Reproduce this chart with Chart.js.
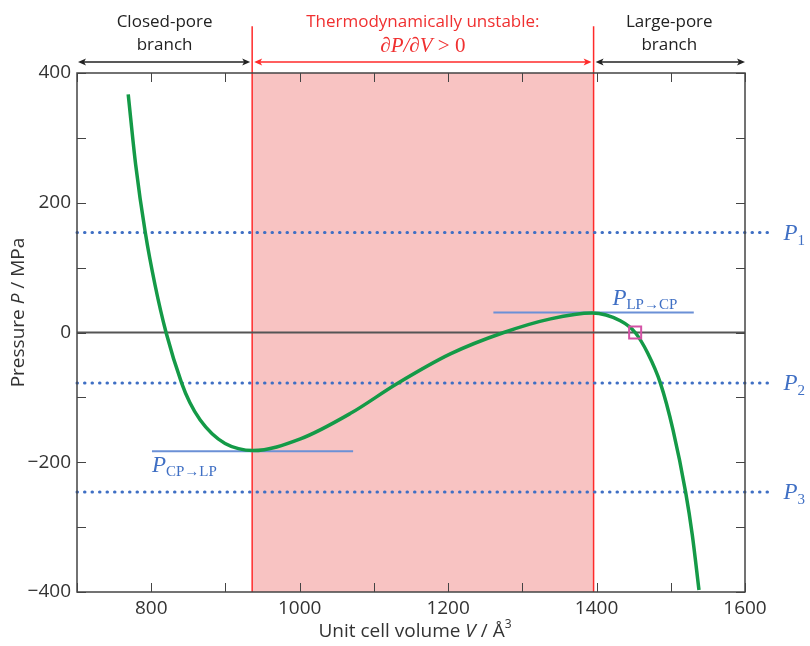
<!DOCTYPE html>
<html><head><meta charset="utf-8">
<script src="https://cdn.jsdelivr.net/npm/chart.js@4/dist/chart.umd.min.js"></script>
<style>html,body{margin:0;padding:0;background:#fff}#c{display:block}</style>
</head><body>
<canvas id="c" width="810" height="646"></canvas>
<script>
// ---- data ----
const curveV = [769, 779, 792, 805, 820, 841, 852, 866, 882, 899.5, 917.5, 937, 1001, 1068, 1131, 1203, 1275, 1338, 1394, 1432, 1452, 1469, 1486, 1503, 1520, 1529, 1538];
const curveP = [367, 259, 154, 74, 0, -78, -108, -135, -156, -171, -179, -182, -164, -125, -79, -33, 0, 21, 30, 18, 0, -32, -78, -150, -246, -312, -397];
const unstableRange = [936, 1396];
const pressureLevels = [154, -78, -246];
const pressureNames = ['1', '2', '3'];
const pCPtoLP = {v: [801, 1072], p: -183};
const pLPtoCP = {v: [1261, 1531], p: 31};
const markerPoint = {v: 1452, p: 0};
const xTicksLabelled = [800, 1000, 1200, 1400, 1600];
const yTicksLabelled = [-400, -200, 0, 200, 400];
const xRange = [700, 1600];
const yRange = [-400, 400];
const dottedEnd = 1637;

const SANS = '"Open Sans", sans-serif';
const SERIF = '"Liberation Serif", "DejaVu Serif", serif';
const BLUE = '#3f6fc4';
const RED = '#ff2a2a';

const pts = (xs, ys) => xs.map((x, i) => ({x, y: ys[i]}));

const datasets = [];
datasets.push({label: 'marker', data: [{x: markerPoint.v, y: markerPoint.p}], showLine: false,
  pointStyle: 'rect', pointRadius: 8.5, borderColor: '#d452a6', borderWidth: 2, backgroundColor: 'rgba(0,0,0,0)'});
datasets.push({label: 'curve', data: pts(curveV, curveP), borderColor: '#149a47', borderWidth: 3.5,
  cubicInterpolationMode: 'monotone', pointRadius: 0, fill: false});
pressureLevels.forEach((p, i) => datasets.push({label: 'P' + pressureNames[i],
  data: [{x: xRange[0], y: p}, {x: dottedEnd, y: p}], borderColor: BLUE, borderWidth: 3,
  borderDash: [0.5, 7], borderCapStyle: 'round', pointRadius: 0, clip: false}));
datasets.push({label: 'cp-lp', data: [{x: pCPtoLP.v[0], y: pCPtoLP.p}, {x: pCPtoLP.v[1], y: pCPtoLP.p}],
  borderColor: '#6b90d6', borderWidth: 2, pointRadius: 0});
datasets.push({label: 'lp-cp', data: [{x: pLPtoCP.v[0], y: pLPtoCP.p}, {x: pLPtoCP.v[1], y: pLPtoCP.p}],
  borderColor: '#6b90d6', borderWidth: 2, pointRadius: 0});
datasets.push({label: 'zero', data: [{x: xRange[0], y: 0}, {x: xRange[1], y: 0}],
  borderColor: '#555', borderWidth: 2, pointRadius: 0});
unstableRange.forEach(v => datasets.push({label: 'edge', data: [{x: v, y: yRange[0]}, {x: v, y: 472}],
  borderColor: RED, borderWidth: 1.5, pointRadius: 0, clip: false}));
datasets.push({label: 'shade', data: [{x: unstableRange[0], y: yRange[1]}, {x: unstableRange[1], y: yRange[1]}],
  borderWidth: 0, borderColor: 'rgba(0,0,0,0)', backgroundColor: '#f8c3c2', fill: 'start', pointRadius: 0});

function richText(ctx, parts, x, y, align) {
  let w = 0;
  parts.forEach(p => { ctx.font = p.font; p.w = ctx.measureText(p.t).width; w += p.w; });
  let cx = align === 'center' ? x - w / 2 : x;
  parts.forEach(p => { ctx.font = p.font; ctx.textAlign = 'left'; ctx.fillText(p.t, cx, y + (p.dy || 0)); cx += p.w; });
}
function arrow(ctx, x1, x2, y, color) {
  ctx.strokeStyle = color; ctx.fillStyle = color; ctx.lineWidth = 1.3;
  ctx.beginPath(); ctx.moveTo(x1 + 3, y); ctx.lineTo(x2 - 3, y); ctx.stroke();
  ctx.beginPath(); ctx.moveTo(x1, y); ctx.lineTo(x1 + 8, y - 3.5); ctx.lineTo(x1 + 6, y); ctx.lineTo(x1 + 8, y + 3.5); ctx.closePath(); ctx.fill();
  ctx.beginPath(); ctx.moveTo(x2, y); ctx.lineTo(x2 - 8, y - 3.5); ctx.lineTo(x2 - 6, y); ctx.lineTo(x2 - 8, y + 3.5); ctx.closePath(); ctx.fill();
}

const deco = {
  id: 'deco',
  afterDatasetsDraw(chart) {
    const {ctx, chartArea: a, scales: {x, y}} = chart;
    ctx.save();
    ctx.strokeStyle = '#444'; ctx.lineWidth = 1.5;
    ctx.strokeRect(a.left, a.top, a.right - a.left, a.bottom - a.top);
    ctx.lineWidth = 1;
    x.ticks.forEach(t => { const px = Math.round(x.getPixelForValue(t.value)) + 0.5;
      ctx.beginPath(); ctx.moveTo(px, a.bottom); ctx.lineTo(px, a.bottom - 9);
      ctx.moveTo(px, a.top); ctx.lineTo(px, a.top + 9); ctx.stroke(); });
    y.ticks.forEach(t => { const py = Math.round(y.getPixelForValue(t.value)) + 0.5;
      ctx.beginPath(); ctx.moveTo(a.left, py); ctx.lineTo(a.left + 9, py);
      ctx.moveTo(a.right, py); ctx.lineTo(a.right - 9, py); ctx.stroke(); });
    const xl = x.getPixelForValue(xRange[0]), xu1 = x.getPixelForValue(unstableRange[0]),
          xu2 = x.getPixelForValue(unstableRange[1]), xr = x.getPixelForValue(xRange[1]);
    arrow(ctx, xl + 1, xu1 - 2, 62, '#222');
    arrow(ctx, xu1 + 2, xu2 - 2, 62, RED);
    arrow(ctx, xu2 + 2, xr, 62, '#222');
    ctx.textBaseline = 'middle';
    ctx.fillStyle = '#222'; ctx.font = '17px ' + SANS; ctx.textAlign = 'center';
    ctx.fillText('Closed-pore', (xl + xu1) / 2, 22); ctx.fillText('branch', (xl + xu1) / 2, 45);
    ctx.fillText('Large-pore', (xu2 + xr) / 2, 22); ctx.fillText('branch', (xu2 + xr) / 2, 45);
    ctx.fillStyle = '#f03030';
    ctx.fillText('Thermodynamically unstable:', (xu1 + xu2) / 2, 22);
    richText(ctx, [{t: '∂P/∂V', font: 'italic 21px ' + SERIF}, {t: ' > 0', font: '21px ' + SERIF}], (xu1 + xu2) / 2, 46, 'center');
    ctx.textBaseline = 'alphabetic'; ctx.fillStyle = BLUE;
    pressureLevels.forEach((p, i) => {
      richText(ctx, [{t: 'P', font: 'italic 23px ' + SERIF}, {t: pressureNames[i], font: '15px ' + SERIF, dy: 5}],
        x.getPixelForValue(dottedEnd) + 11, y.getPixelForValue(p) + 7, 'left');
    });
    richText(ctx, [{t: 'P', font: 'italic 23px ' + SERIF}, {t: 'CP→LP', font: '15px ' + SERIF, dy: 4}],
      x.getPixelForValue(pCPtoLP.v[0]), y.getPixelForValue(pCPtoLP.p) + 21, 'left');
    richText(ctx, [{t: 'P', font: 'italic 23px ' + SERIF}, {t: 'LP→CP', font: '15px ' + SERIF, dy: 4}],
      x.getPixelForValue(pLPtoCP.v[0]) + 119, y.getPixelForValue(pLPtoCP.p) - 7, 'left');
    ctx.fillStyle = '#333'; ctx.textBaseline = 'middle';
    richText(ctx, [{t: 'Unit cell volume ', font: '19px ' + SANS}, {t: 'V', font: 'italic 19px ' + SANS},
      {t: ' / Å', font: '19px ' + SANS}, {t: '3', font: '12px ' + SANS, dy: -7}], (a.left + a.right) / 2 + 4, 632, 'center');
    ctx.translate(19, (a.top + a.bottom) / 2 - 20); ctx.rotate(-Math.PI / 2);
    richText(ctx, [{t: 'Pressure ', font: '19px ' + SANS}, {t: 'P', font: 'italic 19px ' + SANS},
      {t: ' / MPa', font: '19px ' + SANS}], 0, 0, 'center');
    ctx.restore();
  }
};

new Chart(document.getElementById('c'), {
  type: 'scatter',
  data: {datasets: datasets.map(d => Object.assign({showLine: d.showLine !== false, tension: 0}, d))},
  options: {
    responsive: false, animation: false, events: [],
    layout: {padding: {top: 73, right: 65, left: 0, bottom: 0}},
    plugins: {legend: {display: false}, tooltip: {enabled: false}},
    scales: {
      x: {type: 'linear', min: xRange[0], max: xRange[1],
        grid: {display: false, drawTicks: false}, border: {display: false},
        afterFit: s => { s.height = 54; },
        ticks: {stepSize: 100, autoSkip: false, maxRotation: 0, padding: 5, color: '#333', font: {family: SANS, size: 19},
          callback: v => xTicksLabelled.includes(v) ? String(v) : ''}},
      y: {type: 'linear', min: yRange[0], max: yRange[1],
        grid: {display: false, drawTicks: false}, border: {display: false},
        afterFit: s => { s.width = 77; },
        ticks: {stepSize: 100, autoSkip: false, padding: 6, color: '#333', font: {family: SANS, size: 19},
          callback: v => yTicksLabelled.includes(v) ? String(v).replace('-', '−') : ''}}
    }
  },
  plugins: [deco]
});
</script>
</body></html>
